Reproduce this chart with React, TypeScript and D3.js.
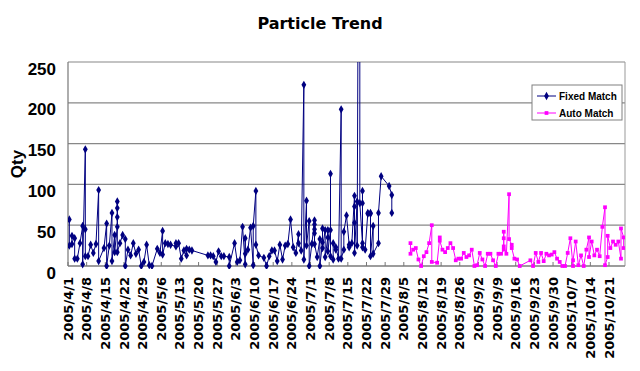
import React from 'react';
import * as d3 from 'd3';

// [date (2005), qty] — several readings can share one date
const fixedMatch: [string, number][] = [
  ['4/1', 57], ['4/1', 25], ['4/2', 27], ['4/2', 37], ['4/3', 34], ['4/3', 9], ['4/4', 9],
  ['4/5', 28], ['4/6', 49], ['4/6', 2], ['4/7', 143], ['4/7', 45], ['4/7', 12], ['4/8', 12],
  ['4/9', 26], ['4/10', 16], ['4/11', 27], ['4/12', 93], ['4/12', 6], ['4/14', 22],
  ['4/15', 52], ['4/15', 0], ['4/16', 25], ['4/17', 65], ['4/17', 6], ['4/18', 38], ['4/18', 17],
  ['4/19', 48], ['4/19', 60], ['4/19', 71], ['4/19', 79], ['4/19', 17], ['4/20', 28],
  ['4/21', 38], ['4/22', 33], ['4/22', 0], ['4/23', 20], ['4/24', 13], ['4/25', 28],
  ['4/26', 15], ['4/27', 20], ['4/28', 0], ['4/29', 5], ['4/30', 26], ['5/1', 1], ['5/2', 0],
  ['5/4', 21], ['5/5', 16], ['5/6', 43], ['5/6', 14], ['5/7', 28], ['5/8', 27], ['5/9', 26],
  ['5/11', 24], ['5/11', 28], ['5/12', 28], ['5/13', 9], ['5/14', 19], ['5/15', 13], ['5/15', 21],
  ['5/16', 20], ['5/17', 19], ['5/23', 13], ['5/24', 13], ['5/25', 12], ['5/26', 5],
  ['5/27', 18], ['5/28', 12], ['5/29', 12], ['5/31', 11], ['5/31', 0], ['6/2', 28], ['6/3', 5],
  ['6/4', 7], ['6/5', 48], ['6/6', 2], ['6/6', 34], ['6/6', 15], ['6/7', 20], ['6/8', 47],
  ['6/9', 1], ['6/9', 49], ['6/10', 92], ['6/10', 26], ['6/11', 13], ['6/13', 10], ['6/14', 0],
  ['6/15', 12], ['6/16', 19], ['6/17', 19], ['6/18', 6], ['6/19', 26], ['6/20', 8], ['6/21', 25],
  ['6/22', 27], ['6/23', 57], ['6/24', 23], ['6/25', 16], ['6/26', 39], ['6/26', 28],
  ['6/27', 19], ['6/28', 222], ['6/28', 8], ['6/29', 80], ['6/29', 25], ['6/30', 55], ['6/30', 0],
  ['7/1', 27], ['7/2', 56], ['7/2', 51], ['7/2', 45], ['7/2', 40], ['7/2', 27], ['7/3', 11],
  ['7/4', 33], ['7/4', 0], ['7/5', 29], ['7/5', 46], ['7/5', 22], ['7/6', 44], ['7/6', 11],
  ['7/7', 35], ['7/7', 44], ['7/7', 18], ['7/8', 44], ['7/8', 113], ['7/8', 12], ['7/9', 8],
  ['7/9', 28], ['7/10', 20], ['7/10', 23], ['7/11', 9], ['7/12', 192], ['7/12', 9],
  ['7/13', 20], ['7/13', 42], ['7/14', 62], ['7/15', 26], ['7/15', 23], ['7/16', 28],
  ['7/17', 86], ['7/17', 73], ['7/17', 53], ['7/17', 16], ['7/18', 79], ['7/18', 25],
  ['7/19', 900], ['7/19', 77], ['7/20', 28], ['7/20', 77], ['7/20', 92], ['7/20', 23],
  ['7/21', 20], ['7/22', 65], ['7/22', 64], ['7/23', 65], ['7/23', 64], ['7/23', 12],
  ['7/24', 49], ['7/24', 15], ['7/26', 28], ['7/26', 65], ['7/27', 110], ['7/30', 98],
  ['7/31', 87], ['7/31', 65],
];

const autoMatch: [string, number][] = [
  ['8/7', 28], ['8/7', 15], ['8/8', 20], ['8/9', 22], ['8/10', 8], ['8/11', 0], ['8/12', 12],
  ['8/13', 17], ['8/14', 28], ['8/15', 50], ['8/15', 5], ['8/17', 4], ['8/18', 35], ['8/18', 31],
  ['8/19', 20], ['8/20', 17], ['8/21', 22], ['8/22', 28], ['8/23', 22], ['8/24', 7], ['8/25', 9],
  ['8/26', 9], ['8/27', 16], ['8/28', 11], ['8/29', 13], ['8/30', 20], ['8/31', 0], ['9/1', 1],
  ['9/2', 16], ['9/3', 8], ['9/4', 0], ['9/5', 15], ['9/6', 15], ['9/7', 7], ['9/8', 0],
  ['9/9', 15], ['9/10', 15], ['9/11', 20], ['9/11', 42], ['9/11', 34], ['9/11', 24],
  ['9/12', 15], ['9/13', 88], ['9/13', 33], ['9/14', 26], ['9/14', 22], ['9/15', 9],
  ['9/16', 8], ['9/17', 0], ['9/21', 7], ['9/22', 0], ['9/23', 16], ['9/24', 5], ['9/25', 16],
  ['9/26', 6], ['9/27', 15], ['9/28', 13], ['9/29', 14], ['9/30', 17], ['10/1', 9], ['10/2', 5],
  ['10/3', 0], ['10/4', 0], ['10/5', 16], ['10/6', 34], ['10/7', 0], ['10/7', 7], ['10/8', 30],
  ['10/9', 1], ['10/10', 13], ['10/11', 0], ['10/12', 20], ['10/13', 35], ['10/13', 11],
  ['10/14', 30], ['10/15', 13], ['10/16', 20], ['10/17', 12], ['10/18', 48], ['10/19', 72],
  ['10/19', 1], ['10/20', 11], ['10/20', 37], ['10/21', 22], ['10/22', 30], ['10/23', 26],
  ['10/24', 30], ['10/25', 9], ['10/25', 46], ['10/26', 35], ['10/26', 22],
];

const yTicks = [0, 50, 100, 150, 200, 250];

const xTickLabels = [
  '2005/4/1', '2005/4/8', '2005/4/15', '2005/4/22', '2005/4/29', '2005/5/6', '2005/5/13',
  '2005/5/20', '2005/5/27', '2005/6/3', '2005/6/10', '2005/6/17', '2005/6/24', '2005/7/1',
  '2005/7/8', '2005/7/15', '2005/7/22', '2005/7/29', '2005/8/5', '2005/8/12', '2005/8/19',
  '2005/8/26', '2005/9/2', '2005/9/9', '2005/9/16', '2005/9/23', '2005/9/30', '2005/10/7',
  '2005/10/14', '2005/10/21',
];

const parse = d3.timeParse('%Y/%m/%d');
const W = 640;
const H = 371;
const left = 68, right = 625, top = 62, bottom = 266;

export default function App() {
  const x = d3.scaleTime()
    .domain([parse('2005/4/1')!, parse('2005/10/27')!])
    .range([left, right]);
  const y = d3.scaleLinear().domain([0, 250]).range([bottom, top]);
  const halfDay = (x(parse('2005/4/2')!) - x(parse('2005/4/1')!)) / 2;

  const px = (d: [string, number]) => x(parse('2005/' + d[0])!) + halfDay;
  const line = d3.line<[string, number]>().x(px).y(d => y(d[1]));
  const diamond = d3.symbol().type(d3.symbolDiamond).size(20)()!;
  const square = d3.symbol().type(d3.symbolSquare).size(14)()!;

  const series = [
    { name: 'Fixed Match', data: fixedMatch, color: '#000080', marker: diamond },
    { name: 'Auto Match', data: autoMatch, color: '#ff00ff', marker: square },
  ];

  return (
    <svg width={W} height={H} style={{ position: 'absolute', left: 0, top: 0, background: '#fff' }}>
      <defs>
        <clipPath id="plot">
          <rect x={left} y={top} width={right - left} height={bottom - top + 3} />
        </clipPath>
      </defs>
      <text x={320} y={29} textAnchor="middle" fontFamily="DejaVu Sans" fontWeight="bold" fontSize={16}>
        Particle Trend
      </text>

      {yTicks.map(t => (
        <g key={t}>
          <line x1={left} x2={right} y1={y(t)} y2={y(t)} stroke="#888" strokeWidth={1.2} />
          <text x={56} y={y(t) + 12.5} textAnchor="end" fontFamily="Liberation Sans" fontWeight="bold" fontSize={17}>
            {t}
          </text>
        </g>
      ))}
      <line x1={right} x2={right} y1={top} y2={bottom} stroke="#999" />
      <line x1={left} x2={left} y1={top} y2={bottom} stroke="#777" strokeWidth={1.2} />
      <line x1={left} x2={right} y1={bottom} y2={bottom} stroke="#777" strokeWidth={1.2} />

      <text transform={`translate(17,${(top + bottom) / 2}) rotate(-90)`} textAnchor="middle" dy="0.35em"
        fontFamily="Liberation Sans" fontWeight="bold" fontSize={17}>
        Qty
      </text>

      {xTickLabels.map(s => {
        const tx = x(parse(s)!);
        return (
          <g key={s}>
            <line x1={tx} x2={tx} y1={bottom - 4} y2={bottom} stroke="#777" />
            <text transform={`translate(${tx},${bottom + 11}) rotate(-90)`} textAnchor="end" dy="0.35em"
              fontFamily="DejaVu Sans" fontWeight="bold" fontSize={13}>
              {s}
            </text>
          </g>
        );
      })}

      <g clipPath="url(#plot)">
        {series.map(s => (
          <g key={s.name}>
            <path d={line(s.data)!} fill="none" stroke={s.color} strokeWidth={1} />
            {s.data.map((d, i) => (
              <path key={i} d={s.marker} transform={`translate(${px(d)},${y(d[1])})`} fill={s.color} />
            ))}
          </g>
        ))}
      </g>

      <g transform="translate(532,85)">
        <rect x={0} y={0} width={90} height={35} fill="#fff" stroke="#808080" />
        {series.map((s, i) => (
          <g key={s.name} transform={`translate(0,${11 + i * 17})`}>
            <line x1={5} x2={24} y1={0} y2={0} stroke={s.color} />
            <path d={s.marker} transform="translate(14.5,0)" fill={s.color} />
            <text x={27} dy="0.35em" fontFamily="Liberation Sans" fontWeight="bold" fontSize={10}>
              {s.name}
            </text>
          </g>
        ))}
      </g>
    </svg>
  );
}
